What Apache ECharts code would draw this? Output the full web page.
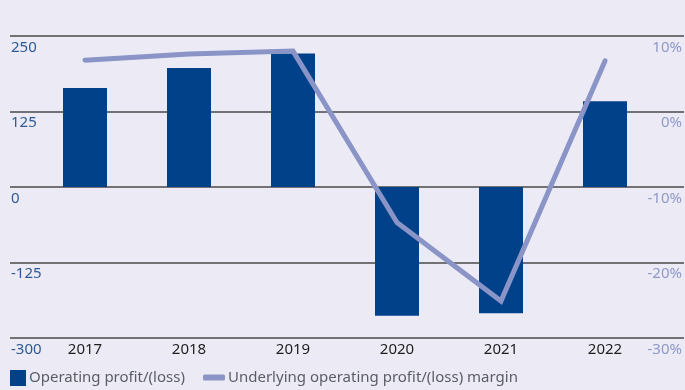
<!DOCTYPE html>
<html>
<head>
<meta charset="utf-8">
<script src="https://cdn.jsdelivr.net/npm/echarts@6/dist/echarts.min.js"></script>
<style>
html,body{margin:0;padding:0;background:#ecebf5;}
#c{width:685px;height:390px;}
</style>
</head>
<body>
<div id="c"></div>
<script>
const years = ['2017', '2018', '2019', '2020', '2021', '2022'];
const operatingProfit = [164, 197, 221, -213, -209, 142];
const underlyingMargin = [6.8, 7.6, 8.0, -14.7, -25.1, 6.7];
const leftTickLabels = ['-300', '-125', '0', '125', '250'];
const rightTickLabels = ['-30%', '-20%', '-10%', '0%', '10%'];
const barName = 'Operating profit/(loss)';
const lineName = 'Underlying operating profit/(loss) margin';

const FONT = 'Noto Sans';
const chart = echarts.init(document.getElementById('c'), null, {renderer: 'canvas'});
chart.setOption({
  backgroundColor: '#ecebf5',
  animation: false,
  textStyle: {fontFamily: FONT},
  grid: [
    {left: 10, right: 1, top: 36, bottom: 52},
    {left: 33, right: 28, top: 36, bottom: 52}
  ],
  legend: [
    {
      data: [barName], left: 10, top: 370, padding: 0, itemWidth: 16, itemHeight: 16, icon: 'rect',
      textStyle: {fontFamily: FONT, fontSize: 15, color: '#5a5d68', padding: [0, 0, 0, -2]}
    },
    {
      data: [lineName], left: 203, top: 370, padding: 0, itemWidth: 22, itemHeight: 6, icon: 'roundRect',
      textStyle: {fontFamily: FONT, fontSize: 15, color: '#5a5d68', padding: [0, 0, 0, -2]}
    }
  ],
  xAxis: [
    {gridIndex: 0, type: 'value', show: false, min: 0, max: 1},
    {
      gridIndex: 1, type: 'category', data: years,
      axisLine: {show: false}, axisTick: {show: false},
      axisLabel: {color: '#1e1e1e', fontSize: 15, margin: 4, fontFamily: FONT}
    }
  ],
  yAxis: [
    {
      gridIndex: 0, type: 'value', position: 'left', min: -250, max: 250, interval: 125,
      axisLine: {show: false}, axisTick: {show: false},
      splitLine: {show: true, lineStyle: {color: '#4a4a4a', width: 1.5}},
      axisLabel: {
        inside: true, margin: 1, verticalAlign: 'top', padding: [4, 0, 0, 0],
        color: '#2c5a98', fontSize: 15, fontFamily: FONT,
        formatter: (v, i) => leftTickLabels[i]
      }
    },
    {
      gridIndex: 0, type: 'value', position: 'right', min: -30, max: 10, interval: 10,
      axisLine: {show: false}, axisTick: {show: false}, splitLine: {show: false},
      axisLabel: {
        inside: true, margin: 2, verticalAlign: 'top', padding: [4, 0, 0, 0],
        color: '#8f99c8', fontSize: 15, fontFamily: FONT,
        formatter: (v, i) => rightTickLabels[i]
      }
    },
    {gridIndex: 1, type: 'value', min: -250, max: 250, interval: 125, show: false, splitLine: {show: false}},
    {gridIndex: 1, type: 'value', min: -30, max: 10, interval: 10, show: false, splitLine: {show: false}}
  ],
  series: [
    {
      name: barName, type: 'bar', xAxisIndex: 1, yAxisIndex: 2,
      data: operatingProfit, barWidth: 44,
      itemStyle: {color: '#00418a'}
    },
    {
      name: lineName, type: 'line', xAxisIndex: 1, yAxisIndex: 3,
      data: underlyingMargin, showSymbol: false, symbol: 'none',
      lineStyle: {color: '#8a94c6', width: 5, cap: 'round', join: 'miter'},
      itemStyle: {color: '#8a94c6'}
    }
  ]
});
</script>
</body>
</html>
